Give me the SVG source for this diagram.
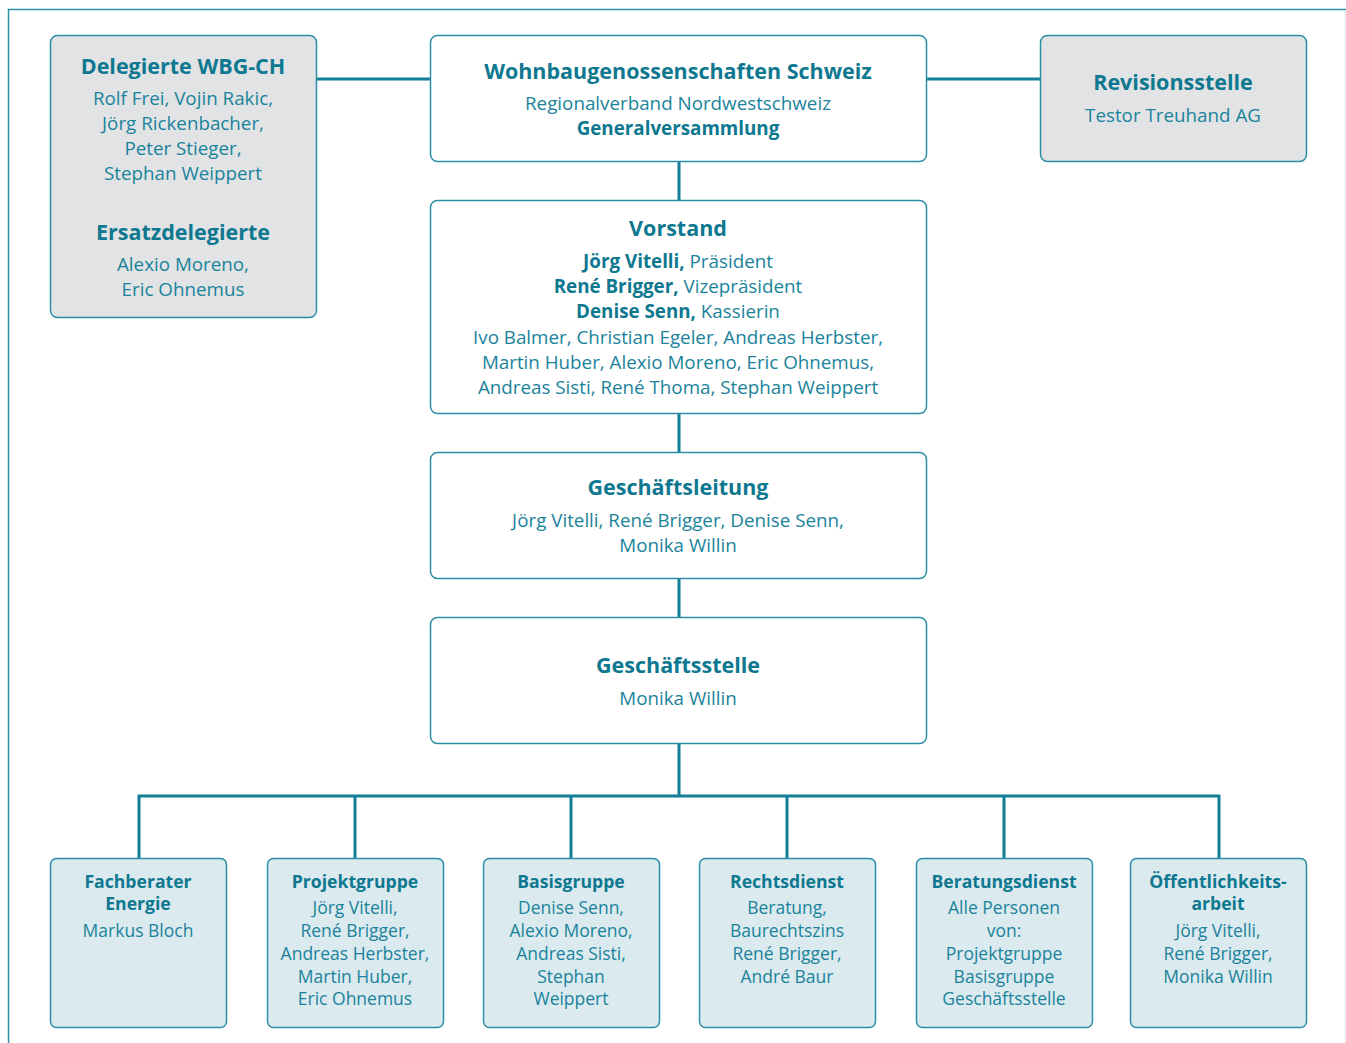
<svg xmlns="http://www.w3.org/2000/svg" width="1346" height="1043" viewBox="0 0 1346 1043">
<style>
text{font-family:"Open Sans","Noto Sans","Liberation Sans",sans-serif;fill:#1a839b;text-anchor:middle}
.t{font-weight:bold;font-size:21.5px;fill:#0d7890}
.b{font-size:18.8px}
.bb{font-size:18.8px;font-weight:bold;fill:#0d7890}
.st{font-weight:bold;font-size:17.6px;fill:#0d7890}
.s{font-size:17.5px}
.grey{fill:#e1e3e5;stroke:#2b8ea6;stroke-width:1.5}
.white{fill:#ffffff;stroke:#2b8ea6;stroke-width:1.5}
.blue{fill:#dbeaef;stroke:#2b8ea6;stroke-width:1.5}
.c{stroke:#137f97;stroke-width:3;fill:none}
</style>
<rect width="1346" height="1043" fill="#ffffff"/>
<path d="M1346 9.5H8.5V1043" fill="none" stroke="#2b8ea6" stroke-width="1.5"/>
<path d="M1345 10V1043" stroke="#e4e6e8" stroke-width="1"/>
<g id="connectors">
<path class="c" d="M316 79H430M926 79H1040"/>
<path class="c" d="M679 161V200M679 413V452M679 578V617M679 743V796"/>
<path class="c" d="M139 858V796H1219V858M355 796V858M571 796V858M787 796V858M1004 796V858"/>
</g>
<g id="delegierte">
<rect class="grey" x="50.5" y="35.5" width="266" height="282" rx="7"/>
<text class="t" x="183" y="74">Delegierte WBG-CH</text>
<text class="b" x="183" y="105">Rolf Frei, Vojin Rakic,</text>
<text class="b" x="183" y="130">Jörg Rickenbacher,</text>
<text class="b" x="183" y="155">Peter Stieger,</text>
<text class="b" x="183" y="180">Stephan Weippert</text>
<text class="t" x="183" y="240">Ersatzdelegierte</text>
<text class="b" x="183" y="271">Alexio Moreno,</text>
<text class="b" x="183" y="296">Eric Ohnemus</text>
</g>
<g id="wbg">
<rect class="white" x="430.5" y="35.5" width="496" height="126" rx="7"/>
<text class="t" x="678" y="79">Wohnbaugenossenschaften Schweiz</text>
<text class="b" x="678" y="110">Regionalverband Nordwestschweiz</text>
<text class="bb" x="678" y="135">Generalversammlung</text>
</g>
<g id="revision">
<rect class="grey" x="1040.5" y="35.5" width="266" height="126" rx="7"/>
<text class="t" x="1173" y="90">Revisionsstelle</text>
<text class="b" x="1173" y="122">Testor Treuhand AG</text>
</g>
<g id="vorstand">
<rect class="white" x="430.5" y="200.5" width="496" height="213" rx="7"/>
<text class="t" x="678" y="236">Vorstand</text>
<text class="b" x="678" y="268"><tspan font-weight="bold" fill="#0d7890">Jörg Vitelli,</tspan> Präsident</text>
<text class="b" x="678" y="293"><tspan font-weight="bold" fill="#0d7890">René Brigger,</tspan> Vizepräsident</text>
<text class="b" x="678" y="318"><tspan font-weight="bold" fill="#0d7890">Denise Senn,</tspan> Kassierin</text>
<text class="b" x="678" y="344">Ivo Balmer, Christian Egeler, Andreas Herbster,</text>
<text class="b" x="678" y="369">Martin Huber, Alexio Moreno, Eric Ohnemus,</text>
<text class="b" x="678" y="394">Andreas Sisti, René Thoma, Stephan Weippert</text>
</g>
<g id="geschaeftsleitung">
<rect class="white" x="430.5" y="452.5" width="496" height="126" rx="7"/>
<text class="t" x="678" y="495">Geschäftsleitung</text>
<text class="b" x="678" y="527">Jörg Vitelli, René Brigger, Denise Senn,</text>
<text class="b" x="678" y="552">Monika Willin</text>
</g>
<g id="geschaeftsstelle">
<rect class="white" x="430.5" y="617.5" width="496" height="126" rx="7"/>
<text class="t" x="678" y="673">Geschäftsstelle</text>
<text class="b" x="678" y="705">Monika Willin</text>
</g>
<g id="fachberater">
<rect class="blue" x="50.5" y="858.5" width="176" height="169" rx="6"/>
<text class="st" x="138" y="888">Fachberater</text>
<text class="st" x="138" y="910">Energie</text>
<text class="s" x="138" y="937">Markus Bloch</text>
</g>
<g id="projektgruppe">
<rect class="blue" x="267.5" y="858.5" width="176" height="169" rx="6"/>
<text class="st" x="355" y="888">Projektgruppe</text>
<text class="s" x="355" y="914">Jörg Vitelli,</text>
<text class="s" x="355" y="937">René Brigger,</text>
<text class="s" x="355" y="960">Andreas Herbster,</text>
<text class="s" x="355" y="983">Martin Huber,</text>
<text class="s" x="355" y="1005">Eric Ohnemus</text>
</g>
<g id="basisgruppe">
<rect class="blue" x="483.5" y="858.5" width="176" height="169" rx="6"/>
<text class="st" x="571" y="888">Basisgruppe</text>
<text class="s" x="571" y="914">Denise Senn,</text>
<text class="s" x="571" y="937">Alexio Moreno,</text>
<text class="s" x="571" y="960">Andreas Sisti,</text>
<text class="s" x="571" y="983">Stephan</text>
<text class="s" x="571" y="1005">Weippert</text>
</g>
<g id="rechtsdienst">
<rect class="blue" x="699.5" y="858.5" width="176" height="169" rx="6"/>
<text class="st" x="787" y="888">Rechtsdienst</text>
<text class="s" x="787" y="914">Beratung,</text>
<text class="s" x="787" y="937">Baurechtszins</text>
<text class="s" x="787" y="960">René Brigger,</text>
<text class="s" x="787" y="983">André Baur</text>
</g>
<g id="beratungsdienst">
<rect class="blue" x="916.5" y="858.5" width="176" height="169" rx="6"/>
<text class="st" x="1004" y="888">Beratungsdienst</text>
<text class="s" x="1004" y="914">Alle Personen</text>
<text class="s" x="1004" y="937">von:</text>
<text class="s" x="1004" y="960">Projektgruppe</text>
<text class="s" x="1004" y="983">Basisgruppe</text>
<text class="s" x="1004" y="1005">Geschäftsstelle</text>
</g>
<g id="oeffentlichkeitsarbeit">
<rect class="blue" x="1130.5" y="858.5" width="176" height="169" rx="6"/>
<text class="st" x="1218" y="888">Öffentlichkeits-</text>
<text class="st" x="1218" y="910">arbeit</text>
<text class="s" x="1218" y="937">Jörg Vitelli,</text>
<text class="s" x="1218" y="960">René Brigger,</text>
<text class="s" x="1218" y="983">Monika Willin</text>
</g>
</svg>
